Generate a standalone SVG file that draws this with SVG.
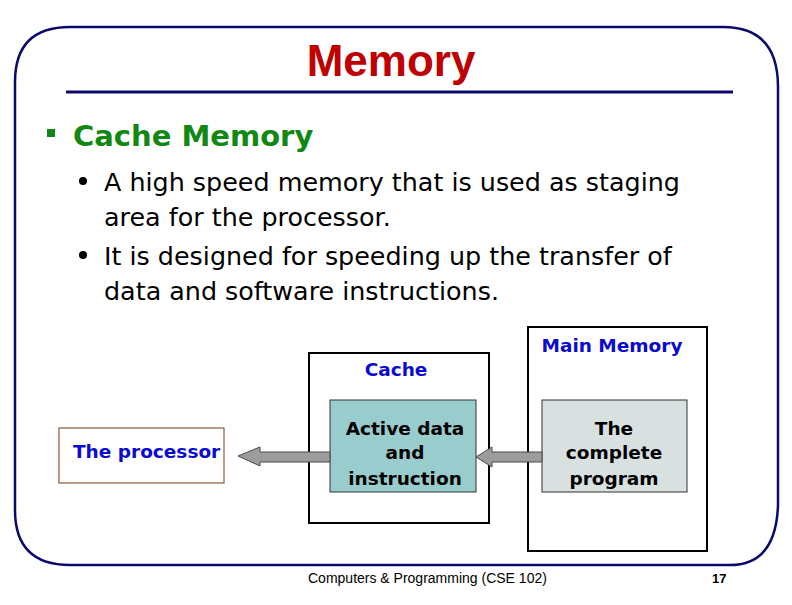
<svg xmlns="http://www.w3.org/2000/svg" width="792" height="605" viewBox="0 0 792 605">
<style>
.frame{fill:none;stroke:#0a0a6e;stroke-width:2.5}
.lbl{font-family:"DejaVu Sans",Verdana,sans-serif;font-weight:bold;font-size:18.5px}
.blue{fill:#0a0ad0}
.dark{fill:#000}
.body{font-family:"DejaVu Sans",Verdana,sans-serif;font-size:25.4px;fill:#000}
.outer{fill:#fff;stroke:#000;stroke-width:2}
.arrow{fill:#9c9c9c;stroke:#4a4a4a;stroke-width:1}
</style>
<rect width="792" height="605" fill="#fff"/>
<g id="frame">
<path class="frame" d="M70 27 H723 Q778 27 778 87 V505 Q776 565 730 565 H70 Q15 565 15 510 V82 Q15 27 70 27 Z"/>
<line x1="66" y1="92" x2="733" y2="92" stroke="#0a0a6e" stroke-width="3"/>
</g>
<g id="title">
<text x="391" y="76" text-anchor="middle" font-family="'Liberation Sans',Arial,sans-serif" font-weight="bold" font-size="44" fill="#c00000">Memory</text>
</g>
<g id="bullets">
<rect x="47" y="129" width="8" height="8" fill="#118811"/>
<text x="73" y="146" font-family="'DejaVu Sans',Verdana,sans-serif" font-weight="bold" font-size="29" fill="#118811">Cache Memory</text>
<circle cx="83" cy="181" r="4" fill="#000"/>
<text class="body" x="104" y="191">A high speed memory that is used as staging</text>
<text class="body" x="104" y="226">area for the processor.</text>
<circle cx="83" cy="255" r="4" fill="#000"/>
<text class="body" x="104" y="265">It is designed for speeding up the transfer of</text>
<text class="body" x="104" y="300">data and software instructions.</text>
</g>
<g id="processor">
<rect x="59" y="428" width="165" height="55" fill="#fff" stroke="#8b5a3c" stroke-width="1.2"/>
<text class="lbl blue" x="73" y="458">The processor</text>
</g>
<g id="cache">
<rect class="outer" x="309" y="353" width="180" height="170"/>
<text class="lbl blue" x="396" y="376" text-anchor="middle">Cache</text>
<rect x="330" y="400" width="146" height="92" fill="#99cccc" stroke="#333" stroke-width="1"/>
<text class="lbl dark" x="405" y="435" text-anchor="middle">Active data</text>
<text class="lbl dark" x="405" y="459" text-anchor="middle">and</text>
<text class="lbl dark" x="405" y="485" text-anchor="middle">instruction</text>
</g>
<g id="main-memory">
<rect class="outer" x="528" y="327" width="179" height="224"/>
<text class="lbl blue" x="612" y="352" text-anchor="middle">Main Memory</text>
<rect x="542" y="400" width="145" height="92" fill="#d9e0e0" stroke="#333" stroke-width="1"/>
<text class="lbl dark" x="614" y="435" text-anchor="middle">The</text>
<text class="lbl dark" x="614" y="459" text-anchor="middle">complete</text>
<text class="lbl dark" x="614" y="485" text-anchor="middle">program</text>
</g>
<g id="connectors">
<path class="arrow" d="M238 456 L260 447 L260 452 L330 452 L330 462 L260 462 L260 466 Z"/>
<path class="arrow" d="M476 457 L492 447 L492 452 L542 452 L542 462 L492 462 L492 467 Z"/>
</g>
<g id="footer">
<text x="308" y="583" font-family="'Liberation Sans',Arial,sans-serif" font-size="14" fill="#000">Computers &amp; Programming (CSE 102)</text>
<text x="712" y="583" font-family="'Liberation Sans',Arial,sans-serif" font-weight="bold" font-size="13" fill="#000">17</text>
</g>
</svg>
